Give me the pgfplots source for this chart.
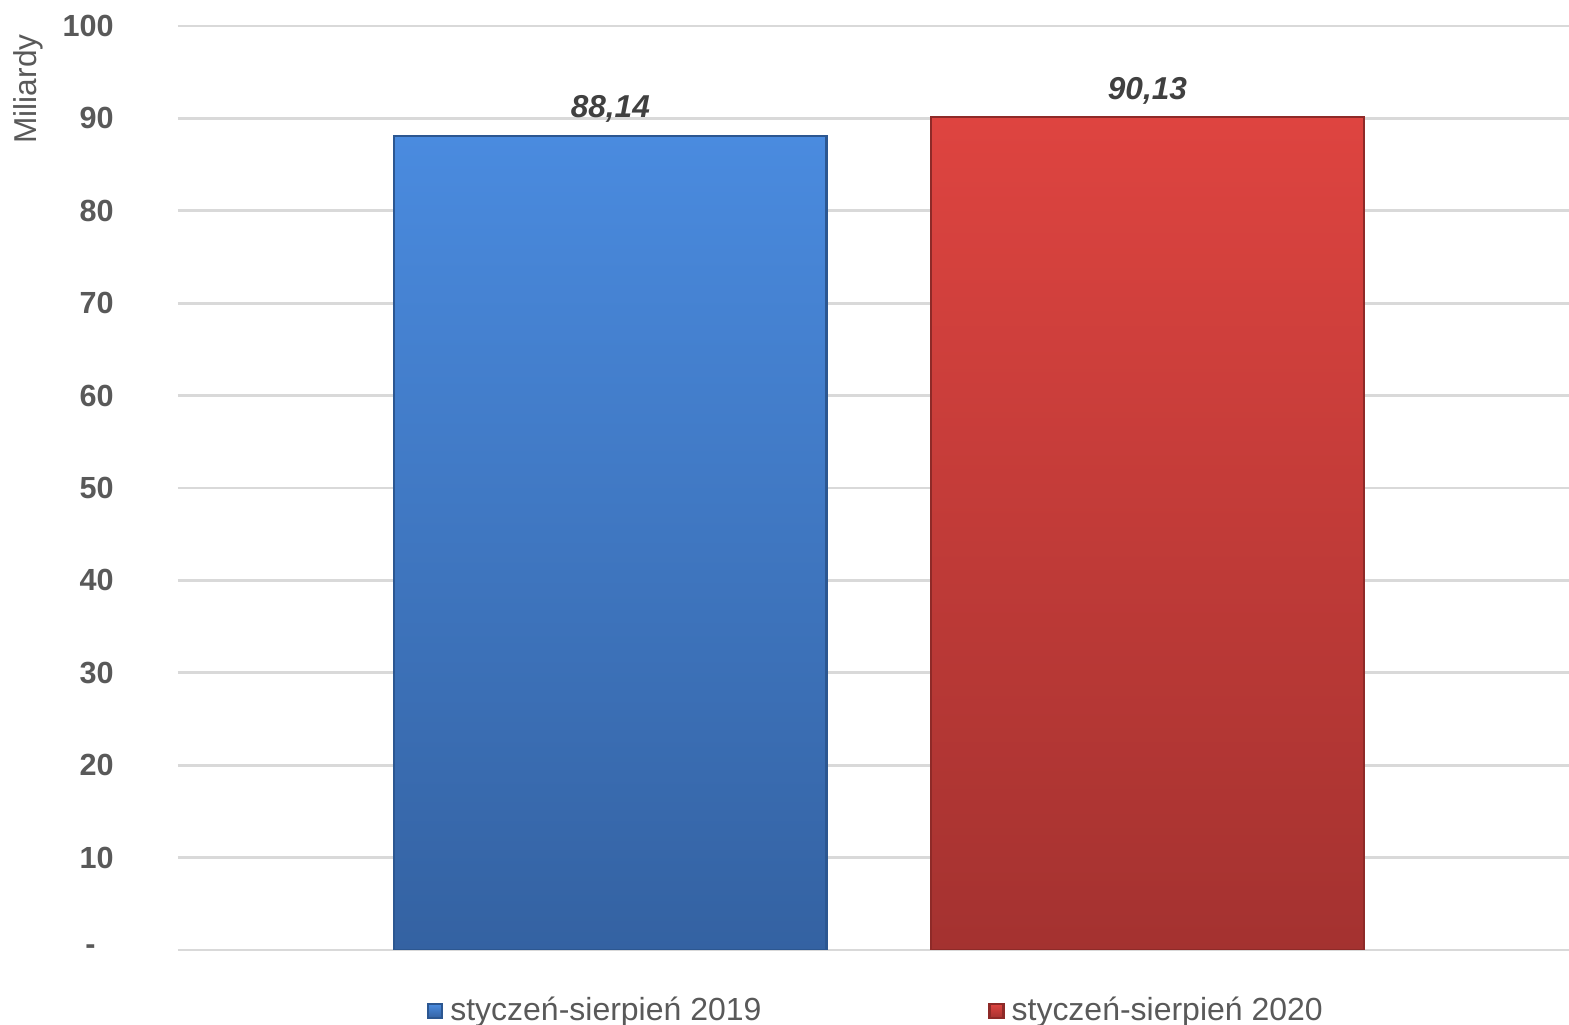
\documentclass[border=0pt]{standalone}
\usepackage{pgfplots}
\pgfplotsset{compat=1.18}
\usepackage{fontspec}
\setmainfont{Liberation Sans}
\definecolor{tickgray}{HTML}{595959}
\definecolor{lblgray}{HTML}{404040}
\definecolor{gridgray}{HTML}{D9D9D9}
\definecolor{bluetop}{HTML}{4A8BDF}
\definecolor{bluebot}{HTML}{3462A2}
\definecolor{blueedge}{HTML}{2C5791}
\definecolor{redtop}{HTML}{DE4440}
\definecolor{redbot}{HTML}{A43230}
\definecolor{rededge}{HTML}{8E2A28}
\begin{document}
\begin{tikzpicture}
% fixed page: axis box sits at (0,0)-(13.91cm,9.24cm)
\useasboundingbox (-1.78cm,-0.75cm) rectangle (13.91cm,9.50cm);
\begin{axis}[
    at={(0,0)}, anchor=south west,
    scale only axis,
    width=13.91cm, height=9.24cm,
    ybar, bar width=0.805,
    xmin=-0.805, xmax=1.785,
    ymin=0, ymax=100,
    ytick={0,10,...,100},
    yticklabels={{-\rule{0.18cm}{0pt}},10,20,30,40,50,60,70,80,90,100},
    xtick=\empty,
    axis line style={draw=none},
    major tick length=0pt,
    ymajorgrids=true,
    grid style={gridgray, line width=0.8pt},
    /pgf/number format/assume math mode=true,
    yticklabel style={font=\fontsize{8.7}{10}\selectfont\bfseries, text=tickgray, xshift=-0.52cm},
    nodes near coords,
    nodes near coords style={font=\fontsize{9}{11}\selectfont\bfseries\itshape, text=lblgray, /pgf/number format/.cd, fixed, fixed zerofill, precision=2, use comma},
    legend style={at={(0.5,0)}, anchor=north, xshift=0.05cm, yshift=-0.32cm, draw=none, fill=none,
        font=\fontsize{9.1}{11}\selectfont, text=tickgray, legend columns=2,
        /tikz/every even column/.append style={column sep=2.2cm}},
    legend image code/.code={\fill[#1] (0cm,-0.07cm) rectangle (0.14cm,0.07cm);},
]
\addplot[bar shift=0pt, top color=bluetop, bottom color=bluebot, draw=blueedge, line width=0.6pt] coordinates {(0,88.14)};
\addlegendentry{styczeń-sierpień 2019}
\addplot[bar shift=0pt, top color=redtop, bottom color=redbot, draw=rededge, line width=0.6pt] coordinates {(1,90.13)};
\addlegendentry{styczeń-sierpień 2020}
\end{axis}
\node[rotate=90, font=\fontsize{9}{11}\selectfont, text=tickgray] at ([xshift=-1.5cm, yshift=-0.63cm]current axis.north west) {Miliardy};
\end{tikzpicture}
\end{document}
